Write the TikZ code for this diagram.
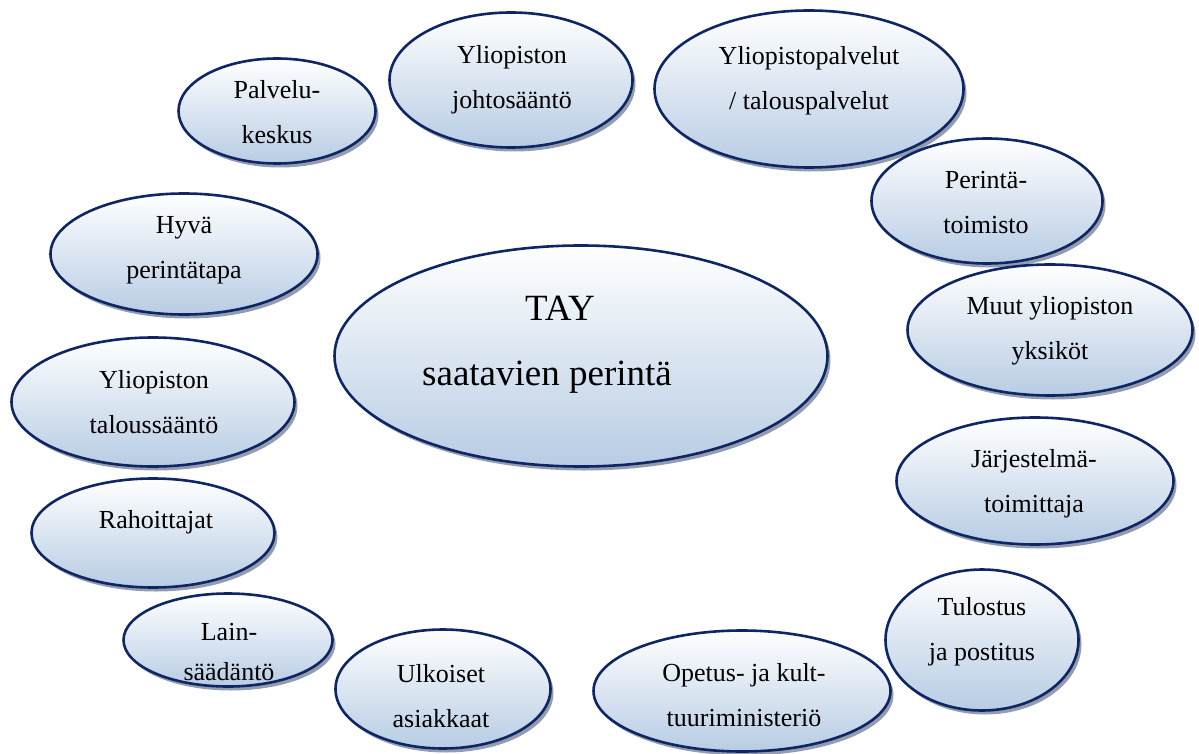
\documentclass[tikz,border=0pt]{standalone}
\usepackage{fontspec}
\setmainfont{Liberation Serif}
\usetikzlibrary{shapes.geometric,shadows}
\definecolor{edgeblue}{RGB}{14,38,100}
\definecolor{fillbot}{RGB}{184,204,228}
\definecolor{shadcol}{RGB}{120,132,155}
\tikzset{
 ell/.style={ellipse, draw=edgeblue, line width=2.6pt, inner sep=0pt,
   top color=white, bottom color=fillbot,
   drop shadow={shadow xshift=3pt, shadow yshift=-4pt, fill=shadcol, opacity=0.8}},
 lbl/.style={align=center, font=\fontsize{26}{45}\selectfont, inner sep=0pt},
 bigtxt/.style={font=\fontsize{37}{44}\selectfont, inner sep=0pt, anchor=base},
}
\begin{document}
\begin{tikzpicture}[x=1pt,y=-1pt]
\useasboundingbox (0,0) rectangle (1199,754);
% central
\node[ell, minimum width=493, minimum height=221] (tay) at (581,356) {};
\node[bigtxt] (tay-a) at (560,320) {TAY};
\node[bigtxt] (tay-b) at (547,385) {saatavien perintä};
% surrounding
\node[ell, minimum width=197, minimum height=105] (pal) at (277,111) {};
\node[lbl] (pal-t) at (277,112) {Palvelu-\\keskus};
\node[ell, minimum width=243, minimum height=135] (joh) at (511,80) {};
\node[lbl] (joh-t) at (512,80) {Yliopiston\\johtosääntö};
\node[ell, minimum width=309, minimum height=157] (ypa) at (809,89) {};
\node[lbl] (ypa-t) at (809,81) {Yliopistopalvelut\\/ talouspalvelut};
\node[ell, minimum width=231, minimum height=125] (per) at (987,201) {};
\node[lbl] (per-t) at (986,203) {Perintä-\\toimisto};
\node[ell, minimum width=285, minimum height=131] (muu) at (1050,330) {};
\node[lbl] (muu-t) at (1050,331) {Muut yliopiston\\yksiköt};
\node[ell, minimum width=277, minimum height=127] (jar) at (1035,481) {};
\node[lbl] (jar-t) at (1034,484) {Järjestelmä-\\toimittaja};
\node[ell, minimum width=193, minimum height=141] (tul) at (982,640) {};
\node[lbl] (tul-t) at (982,632) {Tulostus\\ja postitus};
\node[ell, minimum width=297, minimum height=121] (ope) at (742,691) {};
\node[lbl] (ope-t) at (744,695) {Opetus- ja kult-\\tuuriministeriö};
\node[ell, minimum width=215, minimum height=119] (ulk) at (443,689) {};
\node[lbl] (ulk-t) at (441,696) {Ulkoiset\\asiakkaat};
\node[ell, minimum width=209, minimum height=93] (lai) at (228,640) {};
\node[lbl, font=\fontsize{26}{40}\selectfont] (lai-t) at (229,652) {Lain-\\säädäntö};
\node[ell, minimum width=243, minimum height=109] (rah) at (153,533) {};
\node[lbl] (rah-t) at (156,522) {Rahoittajat};
\node[ell, minimum width=283, minimum height=129] (tal) at (153,402) {};
\node[lbl] (tal-t) at (154,402) {Yliopiston\\taloussääntö};
\node[ell, minimum width=267, minimum height=121] (hyv) at (184,254) {};
\node[lbl] (hyv-t) at (184,250) {Hyvä\\perintätapa};
\end{tikzpicture}
\end{document}
